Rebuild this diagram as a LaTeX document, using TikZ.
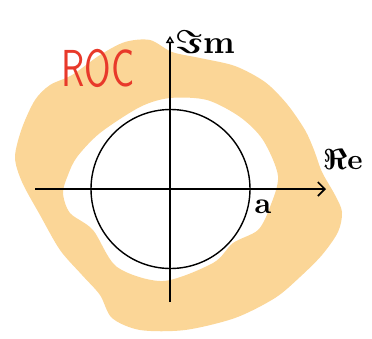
\documentclass[tikz,border=0pt]{standalone}
\usepackage{tikz}
\usetikzlibrary{arrows.meta}
\definecolor{bandcol}{HTML}{FBD697}
\definecolor{roccol}{HTML}{E8392A}
\tikzset{
  band/.style={fill=bandcol, even odd rule},
  axisline/.style={draw=black, line width=1.6pt},
  lbl/.style={inner sep=0pt, text=black, font=\bfseries\boldmath},
}
\begin{document}
\begin{tikzpicture}[x=1pt,y=-1pt]
\useasboundingbox (0,0) rectangle (372,338);
% ROC band
\path[band]
 plot[smooth cycle, tension=0.5] coordinates {
 (150,40) (172,52) (200,58) (235,66) (265,82) (287,104) (305,130) (314,150)
 (322,172) (335,195) (342,212) (338,232) (322,255) (300,277) (275,298)
 (235,318) (185,330) (140,330) (112,318) (100,295) (82,275) (60,250)
 (40,215) (22,182) (15,157) (22,128) (35,100) (50,85) (72,75) (100,55) (125,42)}
 plot[smooth cycle, tension=0.5] coordinates {
 (170,98) (140,107) (100,133) (77,157) (68,175) (63,193) (70,213) (93,230)
 (117,267) (163,281) (213,263) (233,243) (258,230) (270,207) (278,176)
 (263,140) (240,117) (207,100)};
% axes
\coordinate (xl) at (35,189);
\coordinate (xr) at (326,189);
\coordinate (yb) at (170,302);
\coordinate (yt) at (170,36);
\draw[axisline, -{Straight Barb[length=7pt,width=14pt,line width=1.6pt]}] (xl) -- (xr);
\draw[axisline, -{Triangle[open,length=7pt,width=8pt,line width=1.4pt]}] (yb) -- (yt);
% unit circle
\node[draw, circle, line width=1.4pt, minimum size=159pt, inner sep=0pt] (c) at (170.5,189) {};
% labels
\node[lbl, anchor=west, scale=3.3] (im) at (175,42) {$\Im$m};
\node[lbl, scale=2.9] (re) at (343,160) {$\Re$e};
\node[lbl, scale=3] (a) at (263,207) {a};
\node[lbl, font=\sffamily, text=roccol, xscale=3.6, yscale=5.2] (roc) at (98,68) {ROC};
\end{tikzpicture}
\end{document}
